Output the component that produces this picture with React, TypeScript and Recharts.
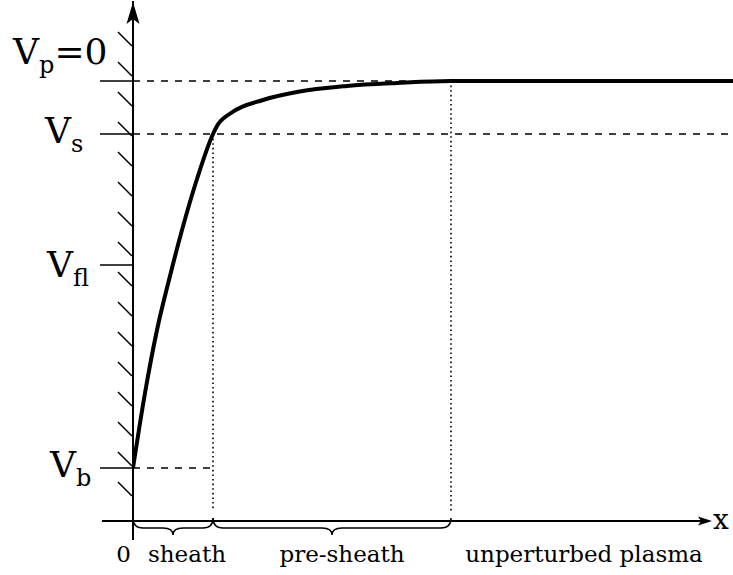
import React from 'react';
import { LineChart, Line, XAxis, YAxis, ReferenceLine, ReferenceDot } from 'recharts';

// Potential profile from the wall (x = 0) into the plasma
const positionX = [0, 1.2, 2.4, 3.65, 4.9, 6.4, 8.0, 8.4, 9.8, 13, 16.4, 21.4, 26.4, 31.8, 60];
const potential = [-38.7, -31.2, -24.9, -19.7, -14.9, -9.8, -5.3, -4.5, -3.2, -1.9, -1.1, -0.5, -0.2, 0, 0];

// Characteristic potential levels: plasma, sheath edge, floating, bias
const potentialLevels = [0, -5.3, -18.4, -38.7];
const potentialSubscripts = ['p', 's', 'fl', 'b'];
const potentialSuffixes = ['=0', '', '', ''];

// Region boundaries along x: wall, sheath edge, pre-sheath edge
const sheathEdge = 8;
const presheathEdge = 31.8;
const braceRanges = [[0, sheathEdge], [sheathEdge, presheathEdge]];

// Labels under the x axis
const regionLabels = ['0', 'sheath', 'pre-sheath', 'unperturbed plasma'];
const regionLabelX = [0, 5.4, 20.9, 45.1];

// Wall hatching along the potential axis
const hatchLevels = [4.9, 1.9, -1.1, -4.1, -7.1, -10.1, -13.1, -16.1, -19.1, -22.1, -25.1, -28.1, -31.1, -34.1, -37.1, -40.1];

const X_MIN = 0;
const X_MAX = 60;
const Y_MIN = -44;
const Y_MAX = 8;

const FONT = '"DejaVu Serif", serif';

const curveData = positionX.map((x, i) => ({ x, v: potential[i] }));

const labelLayout = [
  { x: 13, dy: -17 },
  { x: 45, dy: 9 },
  { x: 47, dy: 12 },
  { x: 50, dy: 9 },
];

const PotentialTick = (props: any) => {
  const { y, payload } = props;
  const i = potentialLevels.indexOf(payload.value);
  if (i < 0) return null;
  const lay = labelLayout[i];
  return (
    <text x={lay.x} y={y + lay.dy} fontFamily={FONT} fontSize={36} fill="#000">
      <tspan>V</tspan>
      <tspan fontSize={24} dy={9}>{potentialSubscripts[i]}</tspan>
      {potentialSuffixes[i] ? <tspan dy={-9}>{potentialSuffixes[i]}</tspan> : null}
    </text>
  );
};

const RegionTick = (props: any) => {
  const { x, y, payload } = props;
  const i = regionLabelX.indexOf(payload.value);
  if (i < 0) return null;
  const first = i === 0;
  return (
    <text
      x={first ? x - 2 : x}
      y={y + 33}
      textAnchor={first ? 'end' : 'middle'}
      fontFamily={FONT}
      fontSize={23}
      fill="#000"
    >
      {regionLabels[i]}
    </text>
  );
};

const Brace = (props: any) => {
  const { x1, y1, x2 } = props;
  const h = 14;
  const q = 10;
  const mid = (x1 + x2) / 2;
  const yb = y1 + h / 2;
  const d = [
    `M ${x1} ${y1 - 3}`,
    `Q ${x1} ${yb} ${x1 + q} ${yb}`,
    `L ${mid - q} ${yb}`,
    `Q ${mid} ${yb} ${mid} ${y1 + h}`,
    `Q ${mid} ${yb} ${mid + q} ${yb}`,
    `L ${x2 - q} ${yb}`,
    `Q ${x2} ${yb} ${x2} ${y1 - 3}`,
  ].join(' ');
  return <path d={d} fill="none" stroke="#000" strokeWidth={1.5} />;
};

const UpArrow = (props: any) => {
  const { cx, cy } = props;
  return (
    <path
      d={`M ${cx} ${cy} L ${cx + 6.5} ${cy + 22} L ${cx} ${cy + 17} L ${cx - 6.5} ${cy + 22} Z`}
      fill="#000"
    />
  );
};

const RightArrow = (props: any) => {
  const { cx, cy } = props;
  return (
    <g>
      <path
        d={`M ${cx} ${cy} L ${cx - 14} ${cy + 4.5} L ${cx - 11} ${cy} L ${cx - 14} ${cy - 4.5} Z`}
        fill="#000"
      />
      <text x={cx + 1} y={cy + 8} fontFamily={FONT} fontSize={28} fill="#000">x</text>
    </g>
  );
};

export default function App() {
  return (
    <div style={{ position: 'absolute', left: 0, top: 0, width: 733, height: 575, background: '#fff' }}>
      <LineChart width={733} height={575} data={curveData} margin={{ top: 1, right: 0, bottom: 0, left: 0 }}>
        <XAxis
          type="number"
          dataKey="x"
          domain={[X_MIN, X_MAX]}
          allowDataOverflow
          ticks={regionLabelX}
          interval={0}
          height={54}
          axisLine={false}
          tickLine={false}
          tickSize={6}
          tickMargin={2}
          tick={<RegionTick />}
        />
        <YAxis
          type="number"
          domain={[Y_MIN, Y_MAX]}
          allowDataOverflow
          ticks={potentialLevels}
          interval={0}
          width={133}
          tickSize={33}
          axisLine={{ stroke: '#000', strokeWidth: 2 }}
          tickLine={{ stroke: '#000', strokeWidth: 1.7 }}
          tick={<PotentialTick />}
        />

        {/* dashed potential levels */}
        <ReferenceLine y={potentialLevels[0]} stroke="#000" strokeWidth={1.3} strokeDasharray="7 7" />
        <ReferenceLine y={potentialLevels[1]} stroke="#000" strokeWidth={1.3} strokeDasharray="7 7" />
        <ReferenceLine
          segment={[{ x: 0, y: potentialLevels[3] }, { x: sheathEdge, y: potentialLevels[3] }]}
          stroke="#000"
          strokeWidth={1.3}
          strokeDasharray="7 7"
          ifOverflow="visible"
        />

        {/* dotted region boundaries */}
        <ReferenceLine
          segment={[{ x: sheathEdge, y: potentialLevels[1] }, { x: sheathEdge, y: Y_MIN + 1 }]}
          stroke="#000"
          strokeWidth={1.6}
          strokeDasharray="1.6 3"
          ifOverflow="visible"
        />
        <ReferenceLine
          segment={[{ x: presheathEdge, y: potentialLevels[0] }, { x: presheathEdge, y: Y_MIN + 1 }]}
          stroke="#000"
          strokeWidth={1.6}
          strokeDasharray="1.6 3"
          ifOverflow="visible"
        />

        {/* wall hatching */}
        {hatchLevels.map((h, i) => (
          <ReferenceLine
            key={`hatch-${i}`}
            segment={[{ x: -1.5, y: h }, { x: -0.1, y: h - 1.4 }]}
            stroke="#000"
            strokeWidth={1.5}
            ifOverflow="visible"
          />
        ))}

        {/* x axis with arrow */}
        <ReferenceLine
          segment={[{ x: -3.1, y: Y_MIN }, { x: 57.6, y: Y_MIN }]}
          stroke="#000"
          strokeWidth={1.8}
          ifOverflow="visible"
        />
        <ReferenceLine
          segment={[{ x: 0, y: Y_MIN }, { x: 0, y: Y_MIN - 1.9 }]}
          stroke="#000"
          strokeWidth={2}
          ifOverflow="visible"
        />
        <ReferenceDot x={57.9} y={Y_MIN} ifOverflow="visible" shape={<RightArrow />} />
        <ReferenceDot x={0} y={7.9} ifOverflow="visible" shape={<UpArrow />} />

        {/* braces under the regions */}
        {braceRanges.map(([a, b], i) => (
          <ReferenceLine
            key={`brace-${i}`}
            segment={[{ x: a, y: Y_MIN }, { x: b, y: Y_MIN }]}
            ifOverflow="visible"
            shape={<Brace />}
          />
        ))}

        <Line
          type="monotone"
          dataKey="v"
          stroke="#000"
          strokeWidth={4}
          dot={false}
          activeDot={false}
          isAnimationActive={false}
        />
      </LineChart>
    </div>
  );
}
